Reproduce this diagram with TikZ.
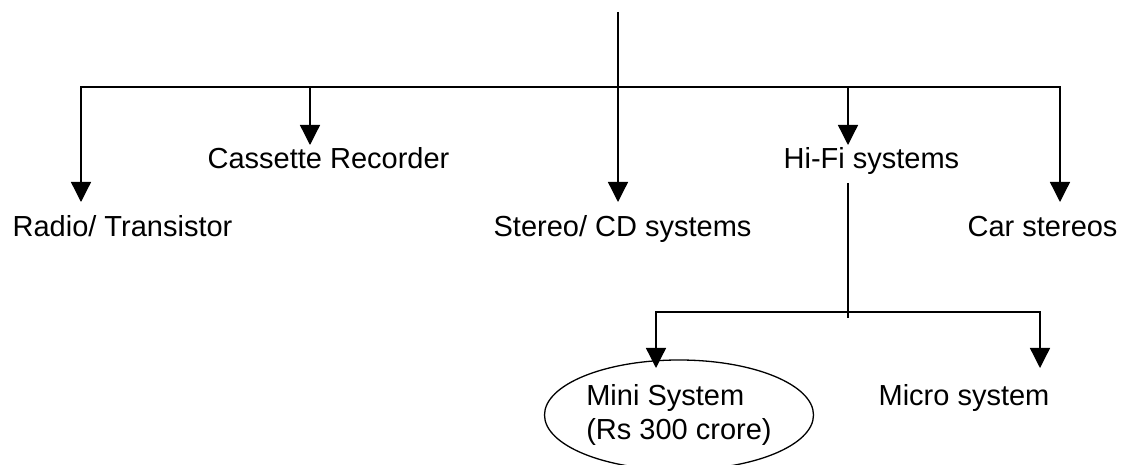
\documentclass[tikz,border=0pt]{standalone}
\usepackage{fontspec}
\setmainfont{Liberation Sans}
\usetikzlibrary{arrows.meta,shapes.geometric}
\begin{document}
\begin{tikzpicture}[x=0.5pt,y=-0.5pt,line width=0.65pt,arr/.style={-{Triangle[length=10pt,width=10pt]}},item/.style={anchor=base west, inner sep=0pt, font=\fontsize{14.5}{17}\selectfont},oval/.style={draw, ellipse, inner sep=0pt, minimum width=134.5pt, minimum height=55pt, align=left, font=\fontsize{14.5}{17}\selectfont}]
\useasboundingbox (0,0) rectangle (1121,465);
\node[item] (radio) at (12,237) {Radio/ Transistor};
\node[item] (cassette) at (207,169) {Cassette Recorder};
\node[item] (stereo) at (493,237) {Stereo/ CD systems};
\node[item] (hifi) at (783,169) {Hi-Fi systems};
\node[item] (car) at (967,237) {Car stereos};
\node[oval] (mini) at (679,415) {Mini System\\(Rs 300 crore)};
\node[item] (micro) at (878,406) {Micro system};
\coordinate (top) at (618,12);
\coordinate (bus) at (618,87);
\coordinate (stereo-tip) at (618,202);
\coordinate (radio-tip) at (81,202);
\coordinate (cassette-tip) at (310,145);
\coordinate (hifi-tip) at (848,145);
\coordinate (car-tip) at (1060,202);
\coordinate (hifi-stem) at (848,183);
\coordinate (hifi-fork) at (848,312);
\coordinate (hifi-end) at (848,318);
\coordinate (mini-tip) at (656,368);
\coordinate (micro-tip) at (1040,368);
\draw[arr] (top) -- (stereo-tip);
\foreach \t in {radio,cassette,hifi,car} {\draw[arr] (bus) -| (\t-tip);}
\draw (hifi-stem) -- (hifi-end);
\foreach \t in {mini,micro} {\draw[arr] (hifi-fork) -| (\t-tip);}
\end{tikzpicture}
\end{document}
